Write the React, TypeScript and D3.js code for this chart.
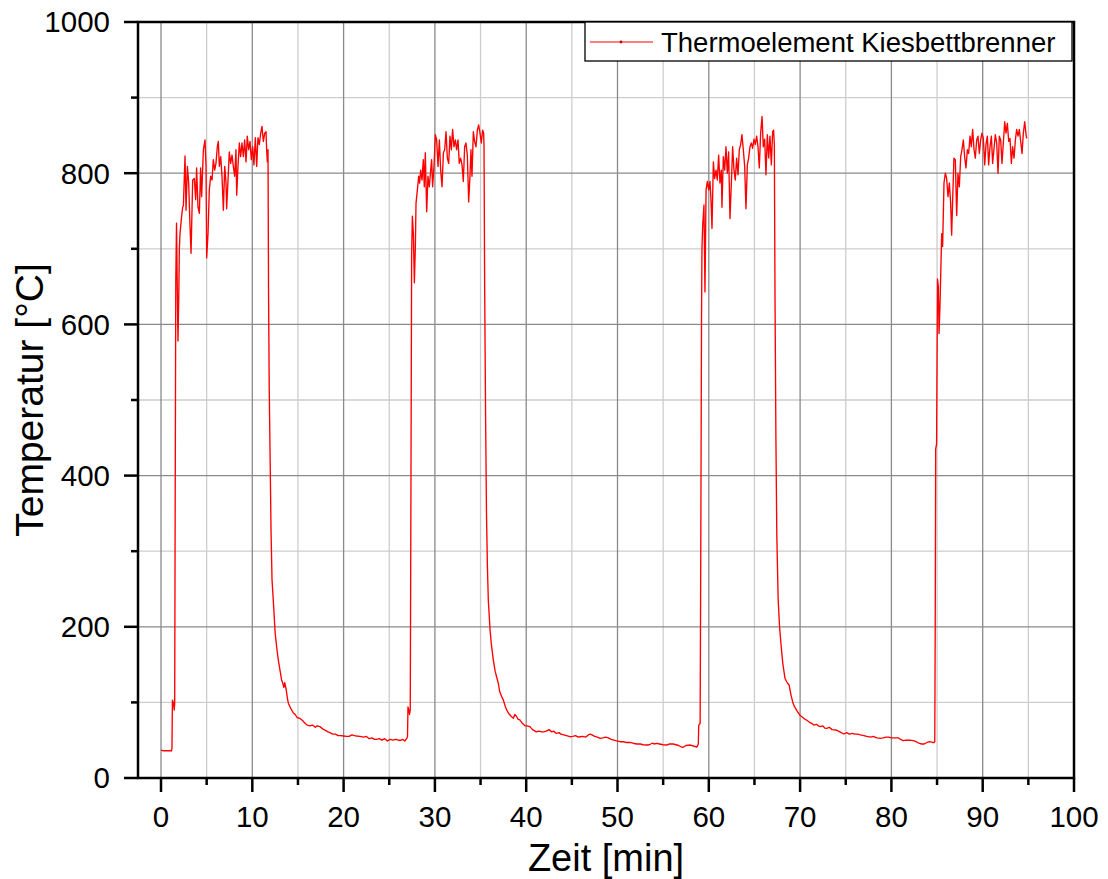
import React, { useEffect, useRef } from "react";
import * as d3 from "d3";

type Pt = [number, number]; // [Zeit in min, Temperatur in °C]

// Zyklus 1
const start1: Pt[] = [[0, 37], [0.3, 36], [0.6, 36], [0.9, 36], [1.15, 36], [1.2, 40], [1.25, 103], [1.35, 100], [1.45, 90], [1.5, 100]];
const heat1: Pt[] = [[1.55, 350], [1.62, 660], [1.7, 734], [1.78, 650], [1.86, 578], [1.95, 640], [2.01, 700], [2.08, 720], [2.26, 743], [2.37, 755], [2.45, 757], [2.63, 823], [2.74, 751], [2.89, 809], [3.03, 787], [3.18, 729], [3.29, 694], [3.47, 791], [3.65, 793], [3.8, 765], [3.9, 807], [4.05, 755], [4.2, 747], [4.34, 807], [4.45, 769], [4.64, 831], [4.82, 844], [4.93, 809], [5.0, 688], [5.15, 720], [5.29, 778], [5.44, 796], [5.59, 791], [5.73, 818], [5.88, 804], [6.02, 813], [6.17, 835], [6.28, 842], [6.39, 809], [6.54, 822], [6.68, 796], [6.83, 751], [6.98, 809], [7.12, 787], [7.19, 753], [7.34, 791], [7.48, 828], [7.63, 813], [7.78, 824], [7.92, 809], [8.07, 796], [8.21, 831], [8.29, 771], [8.43, 809], [8.58, 840], [8.72, 822], [8.87, 840], [9.02, 822], [9.16, 844], [9.31, 815], [9.45, 849], [9.6, 831], [9.75, 842], [9.89, 818], [10.04, 835], [10.18, 811], [10.33, 847], [10.48, 809], [10.62, 847], [10.77, 838], [10.92, 853], [11.06, 862], [11.21, 842], [11.36, 853], [11.5, 855], [11.57, 831], [11.65, 815], [11.72, 831]];
const cool1: Pt[] = [[11.78, 640], [11.85, 520], [11.94, 434], [12.05, 328], [12.16, 262], [12.3, 235], [12.5, 192], [12.7, 170], [12.85, 156], [13.0, 145], [13.2, 130], [13.35, 125], [13.45, 120], [13.55, 126], [13.7, 118], [13.85, 105], [13.95, 99], [14.1, 95], [14.3, 90], [14.5, 86], [14.7, 84], [14.9, 80], [15.2, 79], [15.5, 76], [15.8, 72], [16.0, 70], [16.3, 69], [16.6, 70], [16.9, 67], [17.1, 69], [17.4, 68], [17.7, 65], [18.0, 63], [18.3, 61], [18.5, 60], [18.8, 58], [19.1, 58], [19.4, 56], [19.7, 56], [20.0, 55.6], [20.3, 55], [20.6, 55], [20.9, 57], [21.2, 56], [21.4, 55.6], [21.8, 55], [22.2, 54], [22.5, 55], [22.8, 52], [23.1, 53], [23.4, 51], [23.6, 51], [23.9, 52], [24.2, 50], [24.5, 52], [24.8, 49], [25.1, 51], [25.4, 50], [25.7, 51], [26.0, 50], [26.3, 50], [26.5, 51], [26.7, 49], [26.9, 52]];

// Zyklus 2
const start2: Pt[] = [[27.0, 55], [27.05, 94], [27.15, 90], [27.22, 84], [27.3, 90]];
const heat2: Pt[] = [[27.38, 400], [27.45, 690], [27.53, 743], [27.64, 720], [27.75, 655], [27.86, 703], [27.93, 760], [28.08, 778], [28.22, 796], [28.33, 787], [28.44, 804], [28.59, 791], [28.73, 818], [28.84, 782], [28.95, 827], [29.1, 749], [29.24, 796], [29.39, 782], [29.53, 803], [29.64, 818], [29.75, 782], [29.9, 809], [30.05, 851], [30.19, 844], [30.34, 809], [30.49, 844], [30.63, 804], [30.78, 782], [30.93, 827], [31.07, 831], [31.22, 855], [31.36, 820], [31.51, 813], [31.65, 849], [31.8, 831], [31.94, 858], [32.09, 835], [32.24, 844], [32.38, 831], [32.53, 844], [32.67, 813], [32.82, 820], [32.97, 811], [33.11, 789], [33.26, 835], [33.4, 840], [33.55, 824], [33.7, 762], [33.84, 796], [33.95, 831], [34.06, 796], [34.21, 855], [34.35, 842], [34.5, 835], [34.65, 857], [34.79, 864], [34.94, 853], [35.08, 840], [35.23, 857], [35.34, 853]];
const cool2: Pt[] = [[35.38, 835], [35.45, 650], [35.55, 480], [35.65, 350], [35.75, 280], [35.85, 235], [36.04, 196], [36.2, 175], [36.4, 156], [36.6, 141], [36.8, 132], [36.95, 125], [37.1, 114], [37.3, 108], [37.5, 103], [37.7, 95], [37.86, 90], [38.1, 85], [38.4, 81], [38.6, 79], [38.75, 84], [38.9, 82], [39.1, 78], [39.3, 77], [39.6, 72], [39.87, 69], [40.1, 69], [40.4, 68], [40.7, 64], [41.1, 61], [41.4, 62], [41.7, 61], [41.9, 61], [42.2, 62], [42.5, 64], [42.8, 61], [43.0, 62], [43.3, 59], [43.6, 60], [43.8, 58], [44.1, 57], [44.4, 56], [44.8, 54.6], [45.1, 55], [45.4, 56], [45.7, 54], [45.9, 54.6], [46.2, 55], [46.5, 54], [46.8, 57], [47.0, 58], [47.2, 57], [47.5, 55], [47.8, 54], [48.1, 52.5], [48.4, 53], [48.7, 54], [49.0, 53], [49.3, 51], [49.6, 50], [49.9, 49], [50.3, 48], [50.6, 48], [51.0, 47], [51.4, 47], [51.7, 46], [52.1, 45], [52.5, 45], [52.8, 44], [53.2, 43.6], [53.5, 44], [53.8, 46], [54.0, 45], [54.3, 45.7], [54.6, 45], [55.0, 44], [55.4, 43.6], [55.7, 45], [56.1, 45], [56.4, 44], [56.7, 43], [57.0, 41], [57.2, 40.6], [57.5, 43], [58.0, 43.6], [58.4, 42], [58.7, 41]];

// Zyklus 3
const start3: Pt[] = [[58.85, 45], [58.9, 70], [59.05, 72]];
const heat3: Pt[] = [[59.12, 300], [59.2, 600], [59.25, 700], [59.33, 731], [59.47, 758], [59.58, 643], [59.7, 778], [59.84, 789], [59.99, 778], [60.13, 789], [60.24, 765], [60.35, 727], [60.5, 815], [60.64, 793], [60.79, 804], [60.93, 791], [61.08, 824], [61.22, 787], [61.37, 804], [61.44, 755], [61.59, 822], [61.74, 804], [61.88, 835], [62.03, 800], [62.17, 828], [62.32, 740], [62.47, 787], [62.61, 835], [62.76, 804], [62.9, 791], [63.05, 820], [63.2, 798], [63.34, 831], [63.49, 838], [63.63, 851], [63.78, 831], [63.93, 809], [64.07, 753], [64.22, 811], [64.36, 820], [64.51, 835], [64.66, 840], [64.8, 833], [64.95, 845], [65.09, 838], [65.24, 849], [65.39, 835], [65.53, 807], [65.68, 853], [65.83, 875], [65.97, 835], [66.12, 845], [66.26, 798], [66.41, 851], [66.56, 820], [66.7, 849], [66.85, 811], [66.99, 855], [67.1, 857]];
const cool3: Pt[] = [[67.18, 838], [67.25, 640], [67.35, 450], [67.45, 320], [67.6, 235], [67.75, 200], [67.9, 178], [68.1, 152], [68.34, 132], [68.5, 128], [68.65, 125], [68.8, 123], [69.0, 110], [69.2, 100], [69.4, 94], [69.7, 88], [69.98, 83], [70.2, 81], [70.5, 78], [70.7, 76.7], [71.0, 74], [71.3, 72], [71.5, 70], [71.8, 71], [72.0, 69], [72.2, 68], [72.5, 69], [72.7, 66], [72.9, 65.7], [73.2, 67], [73.5, 64], [73.9, 63.5], [74.2, 62], [74.5, 60], [74.8, 58.2], [75.1, 60], [75.4, 58], [75.7, 59], [76.0, 58], [76.3, 58], [76.6, 57], [77.0, 56], [77.3, 55], [77.7, 54], [78.0, 55], [78.4, 53], [78.8, 52.5], [79.1, 53], [79.4, 54], [79.7, 54], [80.0, 53], [80.4, 53], [80.8, 53], [81.0, 51], [81.3, 49.4], [81.6, 50], [82.0, 50], [82.4, 49.4], [82.7, 48], [83.0, 46], [83.3, 45], [83.6, 45], [83.9, 47], [84.2, 48], [84.5, 47], [84.7, 47]];

// Zyklus 4
const start4: Pt[] = [[84.75, 48]];
const heat4: Pt[] = [[84.8, 200], [84.85, 435], [84.95, 442], [85.05, 660], [85.14, 650], [85.22, 588], [85.32, 625], [85.51, 720], [85.61, 703], [85.76, 787], [85.91, 800], [86.05, 793], [86.2, 769], [86.35, 787], [86.49, 760], [86.6, 718], [86.71, 765], [86.85, 820], [87.0, 818], [87.15, 744], [87.29, 800], [87.44, 782], [87.59, 822], [87.73, 831], [87.88, 844], [88.02, 822], [88.17, 807], [88.32, 831], [88.46, 826], [88.61, 849], [88.75, 835], [88.9, 858], [89.05, 831], [89.19, 820], [89.34, 844], [89.48, 849], [89.63, 826], [89.78, 844], [89.92, 853], [90.07, 846], [90.22, 811], [90.36, 838], [90.51, 849], [90.65, 811], [90.8, 835], [90.95, 849], [91.09, 813], [91.24, 833], [91.38, 851], [91.53, 840], [91.68, 800], [91.82, 849], [91.97, 844], [92.11, 813], [92.26, 840], [92.41, 868], [92.55, 853], [92.7, 866], [92.85, 842], [92.99, 846], [93.14, 813], [93.28, 835], [93.43, 820], [93.58, 844], [93.72, 858], [93.87, 849], [94.01, 858], [94.16, 842], [94.31, 826], [94.45, 853], [94.6, 868], [94.75, 851], [94.82, 846]];

const xMajor = d3.range(0, 101, 10);
const xMinor = d3.range(5, 100, 10);
const yMajor = d3.range(0, 1001, 200);
const yMinor = d3.range(100, 1000, 200);
const legendLabel = "Thermoelement Kiesbettbrenner";
const xTitle = "Zeit [min]";
const yTitle = "Temperatur [°C]";

const series: Pt[] = [
  ...start1, ...heat1, ...cool1,
  ...start2, ...heat2, ...cool2,
  ...start3, ...heat3, ...cool3,
  ...start4, ...heat4,
];

const W = 1108;
const H = 879;
const left = 138, right = 1074, top = 22, bottom = 778;
const font = "'Liberation Sans', Arial, Helvetica, sans-serif";

export default function App() {
  const ref = useRef<SVGSVGElement>(null);

  useEffect(() => {
    const svg = d3.select(ref.current);
    svg.selectAll("*").remove();

    const x = d3.scaleLinear().domain([-2.52, 100]).range([left, right]);
    const y = d3.scaleLinear().domain([0, 1000]).range([bottom, top]);

    svg.append("rect").attr("width", W).attr("height", H).attr("fill", "#fff");

    // Gitter: Nebenlinien heller, Hauptlinien dunkler
    const grid = svg.append("g");
    grid.selectAll(".vmin").data(xMinor).enter().append("line")
      .attr("x1", d => x(d)).attr("x2", d => x(d)).attr("y1", top).attr("y2", bottom)
      .attr("stroke", "#cdcdcd").attr("stroke-width", 1.3);
    grid.selectAll(".hmin").data(yMinor).enter().append("line")
      .attr("x1", left).attr("x2", right).attr("y1", d => y(d)).attr("y2", d => y(d))
      .attr("stroke", "#cdcdcd").attr("stroke-width", 1.3);
    grid.selectAll(".vmaj").data(xMajor).enter().append("line")
      .attr("x1", d => x(d)).attr("x2", d => x(d)).attr("y1", top).attr("y2", bottom)
      .attr("stroke", "#8a8a8a").attr("stroke-width", 1.3);
    grid.selectAll(".hmaj").data(yMajor).enter().append("line")
      .attr("x1", left).attr("x2", right).attr("y1", d => y(d)).attr("y2", d => y(d))
      .attr("stroke", "#8a8a8a").attr("stroke-width", 1.3);

    const line = d3.line<Pt>().x(d => x(d[0])).y(d => y(d[1]));
    svg.append("path").datum(series)
      .attr("d", line)
      .attr("fill", "none")
      .attr("stroke", "#ff0000")
      .attr("stroke-width", 1.35)
      .attr("stroke-linejoin", "round");

    // Rahmen
    svg.append("rect")
      .attr("x", left).attr("y", top).attr("width", right - left).attr("height", bottom - top)
      .attr("fill", "none").attr("stroke", "#000").attr("stroke-width", 2.5);

    // Ticks unten und links
    const ticks = svg.append("g").attr("stroke", "#000").attr("stroke-width", 2.5);
    ticks.selectAll(".xt").data(xMajor).enter().append("line")
      .attr("x1", d => x(d)).attr("x2", d => x(d)).attr("y1", bottom).attr("y2", bottom + 14);
    ticks.selectAll(".xm").data(xMinor).enter().append("line")
      .attr("x1", d => x(d)).attr("x2", d => x(d)).attr("y1", bottom).attr("y2", bottom + 7);
    ticks.selectAll(".yt").data(yMajor).enter().append("line")
      .attr("x1", left - 14).attr("x2", left).attr("y1", d => y(d)).attr("y2", d => y(d));
    ticks.selectAll(".ym").data(yMinor).enter().append("line")
      .attr("x1", left - 7).attr("x2", left).attr("y1", d => y(d)).attr("y2", d => y(d));

    svg.append("g").selectAll("text").data(xMajor).enter().append("text")
      .attr("x", d => x(d)).attr("y", 827)
      .attr("text-anchor", "middle")
      .attr("font-family", font).attr("font-size", 29.5)
      .text(d => d);
    svg.append("g").selectAll("text").data(yMajor).enter().append("text")
      .attr("x", 110).attr("y", d => y(d)).attr("dy", "0.35em")
      .attr("text-anchor", "end")
      .attr("font-family", font).attr("font-size", 29.5)
      .text(d => d);

    svg.append("text")
      .attr("x", (left + right) / 2).attr("y", 871)
      .attr("text-anchor", "middle")
      .attr("font-family", font).attr("font-size", 38)
      .text(xTitle);
    svg.append("text")
      .attr("transform", `translate(43,${(top + bottom) / 2}) rotate(-90)`)
      .attr("text-anchor", "middle")
      .attr("font-family", font).attr("font-size", 39)
      .text(yTitle);

    // Legende
    const lg = svg.append("g");
    lg.append("rect")
      .attr("x", 585).attr("y", top).attr("width", 487).attr("height", 39)
      .attr("fill", "#fff").attr("stroke", "#000").attr("stroke-width", 1.3);
    lg.append("line")
      .attr("x1", 590).attr("x2", 653).attr("y1", 42).attr("y2", 42)
      .attr("stroke", "#ff0000").attr("stroke-width", 1.2);
    lg.append("circle").attr("cx", 621).attr("cy", 42).attr("r", 1.4).attr("fill", "#d00000");
    lg.append("text")
      .attr("x", 661).attr("y", 52)
      .attr("font-family", font).attr("font-size", 27.5)
      .text(legendLabel);
  }, []);

  return (
    <svg
      ref={ref}
      width={W}
      height={H}
      style={{ position: "absolute", left: 0, top: 0 }}
    />
  );
}
